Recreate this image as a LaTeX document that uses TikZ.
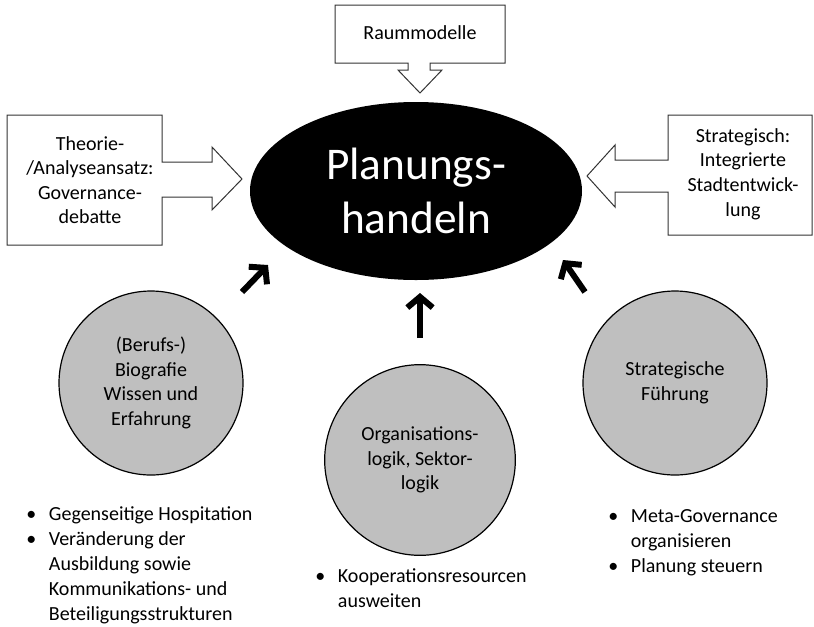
\documentclass[tikz,border=0pt]{standalone}
\usepackage{fontspec}
\setmainfont{Carlito}
\usepackage{tikz}
\usetikzlibrary{arrows.meta,shapes.geometric}
\newcommand{\punkt}{\makebox[17pt][l]{\textbullet}}
\newcommand{\einzug}{\hspace*{17pt}}

\begin{document}
\begin{tikzpicture}[x=0.75pt,y=-0.75pt,
  rahmen/.style={draw=black!80,line width=0.75pt,fill=white},
  kasten/.style={align=center,inner sep=0pt,font=\fontsize{15}{18.4}\selectfont},
  kreis/.style={circle,draw=black,line width=0.9pt,fill=black!25,align=center,inner sep=0pt,font=\fontsize{15}{18.4}\selectfont},
  liste/.style={align=left,anchor=west,inner sep=0pt,font=\fontsize{15}{18.75}\selectfont},
  pfeil/.style={line width=4.5pt,-{Straight Barb[length=8pt,width=19pt]}}]

\useasboundingbox (0,0) rectangle (814,626);

% Legenden mit Blockpfeil
\draw[rahmen] (335,5) -- (505,5) -- (505,63) -- (430,63) -- (430,70) -- (442,70) -- (420,93) -- (398,70) -- (408,70) -- (408,63) -- (335,63) -- cycle;
\draw[rahmen] (7,115) -- (162,115) -- (162,162) -- (212,162) -- (212,147) -- (242,179) -- (212,210) -- (212,197) -- (162,197) -- (162,245) -- (7,245) -- cycle;
\draw[rahmen] (812,115) -- (668,115) -- (668,160) -- (615,160) -- (615,145) -- (587,176) -- (615,207) -- (615,192) -- (668,192) -- (668,235) -- (812,235) -- cycle;

\node[kasten] (raum) at (420,33) {Raummodelle};
\node[kasten] (theorie) at (90,180) {Theorie-\\/Analyseansatz:\\Governance-\\debatte};
\node[kasten] (stadt) at (743,174) {Strategisch:\\Integrierte\\Stadtentwick-\\lung};

% Mitte
\node[ellipse,fill=black,minimum width=249pt,minimum height=133.5pt,inner sep=0pt,
  text=white,align=center,font=\fontsize{34}{41}\selectfont] (plan) at (416,191) {Planungs-\\handeln};

% Einflussfaktoren
\node[kreis,minimum size=138pt] (bio) at (151,383) {(Berufs-)\\Biografie\\Wissen und\\Erfahrung};
\node[kreis,minimum size=143pt] (org) at (420,460) {Organisations-\\logik, Sektor-\\logik};
\node[kreis,minimum size=138pt] (fuehr) at (675,383) {Strategische\\Führung};

\coordinate (bio1) at (242,292);
\coordinate (bio2) at (268,265);
\coordinate (org1) at (420,338);
\coordinate (org2) at (420,293);
\coordinate (fue1) at (585,292);
\coordinate (fue2) at (563,260);
\draw[pfeil] (bio1) -- (bio2);
\draw[pfeil] (org1) -- (org2);
\draw[pfeil] (fue1) -- (fue2);

% Massnahmen
\node[liste] (hosp) at (26,565) {\punkt Gegenseitige Hospitation\\\punkt Veränderung der\\\einzug Ausbildung sowie\\\einzug Kommunikations- und\\\einzug Beteiligungsstrukturen};
\node[liste] (koop) at (315,588) {\punkt Kooperationsresourcen\\\einzug ausweiten};
\node[liste] (meta) at (608,543) {\punkt Meta-Governance\\\einzug organisieren\\\punkt Planung steuern};
\end{tikzpicture}
\end{document}
